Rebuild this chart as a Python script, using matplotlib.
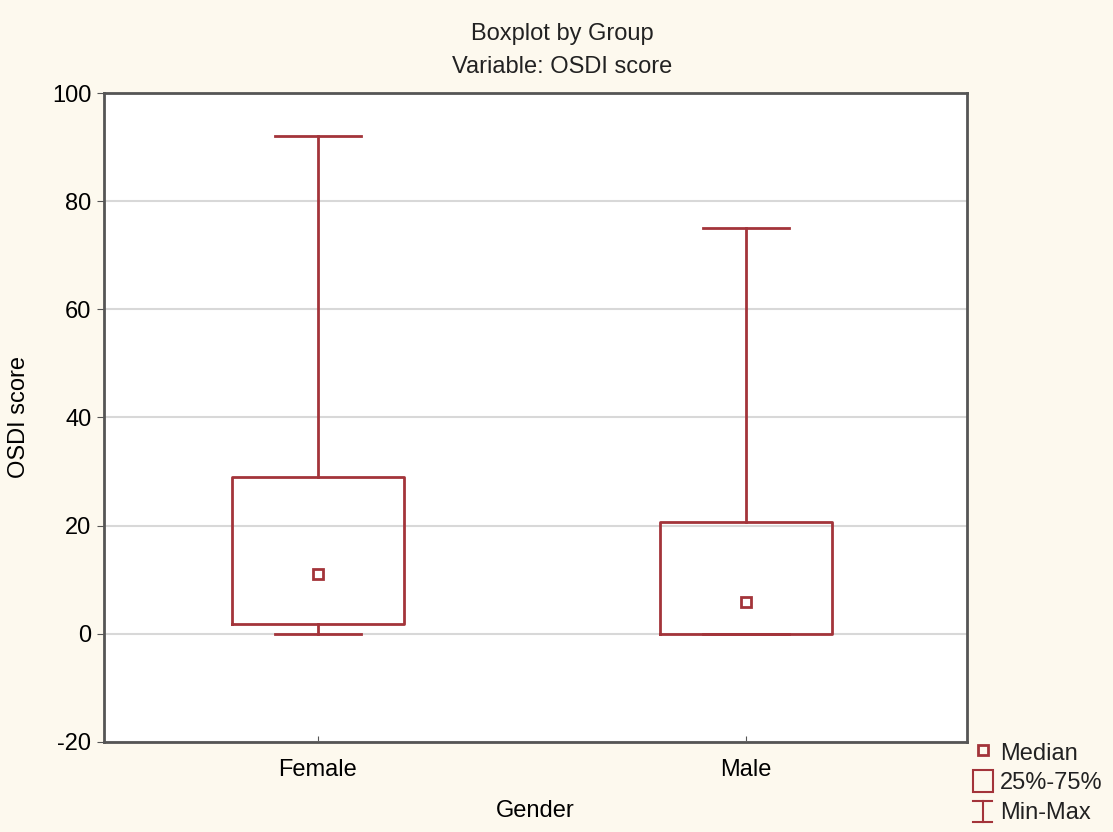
import numpy as np
import matplotlib
matplotlib.use('Agg')
import matplotlib.pyplot as plt
from matplotlib.lines import Line2D
from matplotlib.patches import Rectangle
from matplotlib.legend_handler import HandlerBase

plt.rcParams['font.family'] = ['Liberation Sans', 'DejaVu Sans']
plt.rcParams['axes.unicode_minus'] = False
plt.rcParams['text.color'] = '#222222'

# values
groups = ['Female', 'Male']
medians = [11.1, 5.9]
q1 = [1.9, 0.0]
q3 = [29.0, 20.7]
mins = [0.0, 0.0]
maxs = [92.0, 75.0]

red = '#a3343a'
bg = '#fdf9ee'
fs = 17

class HandlerMinMax(HandlerBase):
    # draws the little "I" symbol used for the Min-Max entry
    def create_artists(self, legend, orig, xd, yd, w, h, fontsize, trans):
        cx = xd + w / 2
        cw = w * 0.95
        lo, hi = yd - 0.27 * h, yd + 0.72 * h
        lines = [
            Line2D([cx, cx], [lo, hi]),
            Line2D([cx - cw / 2, cx + cw / 2], [lo, lo]),
            Line2D([cx - cw / 2, cx + cw / 2], [hi, hi]),
        ]
        for ln in lines:
            ln.set_color(red)
            ln.set_linewidth(1.5)
            ln.set_transform(trans)
        return lines

fig = plt.figure(figsize=(11.13, 8.32), dpi=100, facecolor=bg)
ax = fig.add_axes([0.0934, 0.1082, 0.7754, 0.78])

stats = []
for i in range(len(groups)):
    stats.append({'label': groups[i], 'med': medians[i], 'q1': q1[i], 'q3': q3[i],
                  'whislo': mins[i], 'whishi': maxs[i], 'mean': medians[i], 'fliers': []})

ax.bxp(stats, positions=[1, 2], widths=0.4, capwidths=0.2, showmeans=True,
       showfliers=False,
       boxprops=dict(color=red, linewidth=2),
       whiskerprops=dict(color=red, linewidth=2),
       capprops=dict(color=red, linewidth=2),
       medianprops=dict(linewidth=0),
       meanprops=dict(marker='s', markersize=7.5, markerfacecolor='none',
                      markeredgecolor=red, markeredgewidth=2))

ax.set_xlim(0.5, 2.516)
ax.set_ylim(-20, 100)
ax.set_yticks(np.arange(-20, 101, 20))
ax.yaxis.grid(True, color='#d8d8d8', linewidth=1.5)
ax.set_axisbelow(True)
ax.tick_params(axis='y', direction='out', length=5, labelsize=fs, color='#555555', pad=4)
ax.tick_params(axis='x', direction='in', length=4, labelsize=fs, color='#555555', pad=12)
for s in ax.spines.values():
    s.set_color('#555555')
    s.set_linewidth(2)

ax.set_ylabel('OSDI score', fontsize=fs, labelpad=16)
ax.set_xlabel('Gender', fontsize=fs, labelpad=14)
fig.suptitle('Boxplot by Group\nVariable: OSDI score', fontsize=fs, linespacing=1.65,
             x=0.505, y=0.972, va='top')

handles = [
    Line2D([], [], ls='none', marker='s', markersize=6.5, markerfacecolor='none',
           markeredgecolor=red, markeredgewidth=2),
    Rectangle((0, 0), 1, 1, facecolor='none', edgecolor=red, linewidth=1.5),
    Line2D([], [], color=red),
]
leg = fig.legend(handles, ['Median', '25%-75%', 'Min-Max'],
                 handler_map={handles[2]: HandlerMinMax()},
                 loc='lower left', bbox_to_anchor=(0.874, 0.01), frameon=False,
                 fontsize=fs, handlelength=0.85, handleheight=1.0, handletextpad=0.3,
                 labelspacing=0.25, borderpad=0.0, borderaxespad=0.0)

fig.savefig('out.png', dpi=100, facecolor=bg)
